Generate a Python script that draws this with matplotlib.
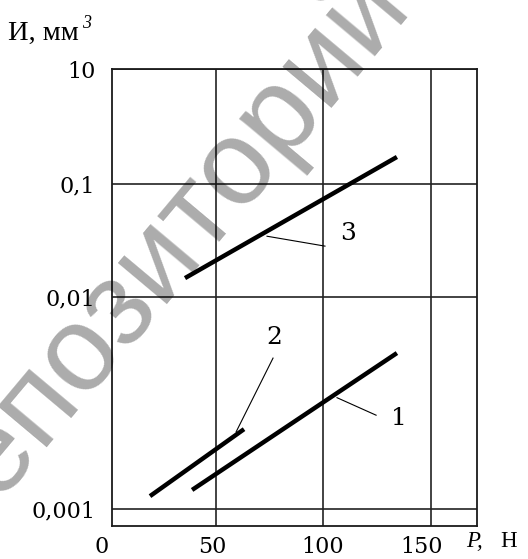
import numpy as np
import matplotlib
matplotlib.use("Agg")
import matplotlib.pyplot as plt
import matplotlib.transforms as mtransforms

# Wear volume vs load, three specimens
p1 = [38.8, 134.2]
w1 = [0.00123, 0.00544]
p2 = [19.2, 63.0]
w2 = [0.00115, 0.00238]
p3 = [35.5, 134.2]
w3 = [0.0147, 0.295]

curve_names = ["1", "2", "3"]
# leader: (start on curve), (end), (label position)
leader_start = [(106.3, 0.00335), (59.3, 0.00231), (73.7, 0.0345)]
leader_end = [(124.5, 0.00277), (76.5, 0.00515), (100.7, 0.0282)]
label_pos = [(135.2, 0.00268), (77.0, 0.00641), (111.5, 0.0368)]

x_ticks = [0, 50, 100, 150]
x_tick_labels = ["0", "50", "100", "150"]
y_ticks = [0.001, 0.01, 0.1, 10]
y_tick_labels = ["0,001", "0,01", "0,1", "10"]

# piecewise logarithmic axis: decade breakpoints -> axis units
LOG_PTS = [-4.0, -3.0, -2.0, -1.0, 1.0, 3.0]
POS_PTS = [-212.0, 0.0, 212.0, 325.0, 440.0, 555.0]


def fwd(y):
    y = np.asarray(y, dtype=float)
    return np.interp(np.log10(np.clip(y, 1e-12, None)), LOG_PTS, POS_PTS)


def inv(p):
    p = np.asarray(p, dtype=float)
    return 10.0 ** np.interp(p, POS_PTS, LOG_PTS)


W, H = 528, 559
fig = plt.figure(figsize=(W / 100, H / 100), dpi=100)
ax = fig.add_axes([112 / W, 33 / H, 365 / W, 457 / H])
ax.set_yscale("function", functions=(fwd, inv))
ax.set_xlim(1.5, 171.5)
ax.set_ylim(10 ** (-3 - 17 / 212), 10)

for s in ax.spines.values():
    s.set_linewidth(1.3)
    s.set_color("#1a1a1a")

ax.set_xticks(x_ticks[1:])
ax.set_xticklabels([])
ax.set_yticks(y_ticks)
ax.set_yticklabels(y_tick_labels, fontfamily="DejaVu Serif", fontsize=16)
ax.yaxis.set_minor_locator(matplotlib.ticker.NullLocator())
ax.tick_params(axis="both", length=0)
ax.tick_params(axis="y", pad=12)
ax.grid(True, color="#222222", linewidth=1.2)

# x tick labels, nudged individually
dx_px = [-7, -4, -1, -9]
for xv, lab, dx in zip(x_ticks, x_tick_labels, dx_px):
    tr = mtransforms.blended_transform_factory(ax.transData, ax.transAxes)
    tr = tr + mtransforms.ScaledTranslation(dx / 100, -21 / 100, fig.dpi_scale_trans)
    ax.text(xv, 0, lab, transform=tr, ha="center", va="center",
            fontfamily="DejaVu Serif", fontsize=16, clip_on=False)

for xs, ys in ((p1, w1), (p2, w2), (p3, w3)):
    ax.plot(xs, ys, color="black", linewidth=3.2, solid_capstyle="butt")

for name, s, e, lp in zip(curve_names, leader_start, leader_end, label_pos):
    ax.plot([s[0], e[0]], [s[1], e[1]], color="black", linewidth=0.8)
    ax.text(lp[0], lp[1], name, ha="center", va="center",
            fontfamily="DejaVu Serif", fontsize=18)


def px(x, y):
    return x / W, 1 - y / H


fig.text(*px(8, 40), "И, мм", fontfamily="Liberation Serif", fontsize=20.5,
         ha="left", va="baseline")
fig.text(*px(82, 28), "3", fontfamily="Liberation Serif", fontstyle="italic",
         fontsize=13, ha="left", va="baseline")
fig.text(*px(466, 547), "P,", fontfamily="Liberation Serif", fontstyle="italic",
         fontsize=16.5, ha="left", va="baseline")
fig.text(*px(500, 547), "Н", fontfamily="Liberation Serif",
         fontsize=16.5, ha="left", va="baseline")

# repository watermark
fig.text(*px(154, 258), "Репозиторий", fontfamily="Liberation Sans",
         fontsize=87, color="black", alpha=0.33, rotation=50,
         rotation_mode="anchor", ha="center", va="center", zorder=10)

fig.savefig("out.png", dpi=100)
